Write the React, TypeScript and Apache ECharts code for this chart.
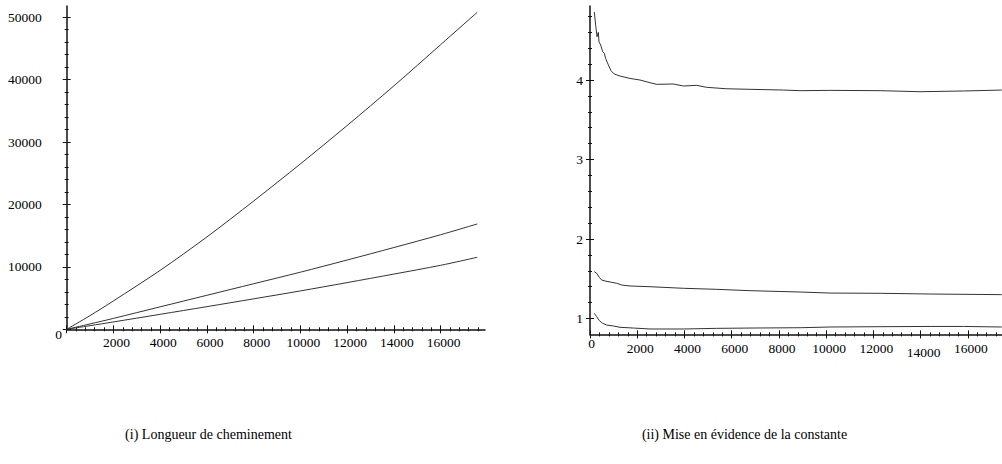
import React, { useEffect, useRef } from "react";
import * as echarts from "echarts";

// ---- Left panel: (i) Longueur de cheminement ----
const leftN = [0, 1000, 2000, 4000, 6000, 8000, 10000, 12000, 14000, 16000, 17570];
const leftTop = [0, 2200, 4550, 9450, 14800, 20550, 26500, 32650, 39000, 45600, 50800];
const leftMid = [0, 860, 1750, 3600, 5450, 7300, 9150, 11100, 13100, 15150, 16880];
const leftLow = [0, 580, 1180, 2400, 3630, 4880, 6150, 7480, 8850, 10250, 11540];

// ---- Right panel: (ii) Mise en évidence de la constante ----
const rightTopN = [183, 240, 297, 353, 381, 452, 537, 607, 664, 777, 890, 1031, 1271, 1695, 2119, 2542, 2825, 3531, 3955, 4520, 4944, 5791, 6780, 8192, 8898, 10170, 12290, 13980, 15820, 17440];
const rightTopV = [4.855, 4.69, 4.545, 4.6, 4.48, 4.44, 4.356, 4.336, 4.27, 4.19, 4.117, 4.075, 4.05, 4.02, 4.0, 3.966, 3.946, 3.95, 3.925, 3.933, 3.908, 3.89, 3.883, 3.874, 3.866, 3.87, 3.866, 3.853, 3.862, 3.874];
const rightMidN = [183, 282, 395, 494, 636, 918, 1130, 1342, 1695, 2542, 3955, 5367, 6780, 8898, 10170, 12290, 14407, 17440];
const rightMidV = [1.589, 1.569, 1.518, 1.484, 1.472, 1.455, 1.443, 1.421, 1.409, 1.4, 1.38, 1.367, 1.35, 1.333, 1.32, 1.317, 1.308, 1.3];
const rightLowN = [183, 282, 395, 537, 706, 989, 1271, 1836, 2542, 3955, 5367, 6780, 8898, 10170, 12290, 14407, 15820, 17440];
const rightLowV = [1.065, 1.023, 0.973, 0.94, 0.918, 0.906, 0.889, 0.88, 0.868, 0.868, 0.876, 0.88, 0.884, 0.893, 0.897, 0.9, 0.9, 0.893];

// ---- Tick labels ----
const leftXLabels = [2000, 4000, 6000, 8000, 10000, 12000, 14000, 16000];
const leftYLabels = [10000, 20000, 30000, 40000, 50000];
const rightXLabels = [2000, 4000, 6000, 8000, 10000, 12000, 16000];
const rightXLowLabels = [14000];
const rightXZeroLabel = [0];
const rightYLabels = [1, 2, 3, 4];
const captions = ["(i) Longueur de cheminement", "(ii) Mise en évidence de la constante"];

const range = (a: number, b: number, s: number) => {
  const out: number[] = [];
  for (let i = 0; a + i * s <= b + 1e-9; i++) out.push(Math.round((a + i * s) * 1000) / 1000);
  return out;
};
const minorsOf = (all: number[], majors: number[]) =>
  all.filter((v) => !majors.some((m) => Math.abs(m - v) < 1e-6));

const leftXMajor = range(0, 16000, 2000);
const leftXMinor = minorsOf(range(0, 17600, 400), leftXMajor);
const leftYMajor = range(0, 50000, 10000);
const leftYMinor = minorsOf(range(0, 50000, 2000), leftYMajor);
const rightXMajor = range(0, 16000, 2000);
const rightXMinor = minorsOf(range(0, 17200, 400), rightXMajor);
const rightYMajor = [1, 2, 3, 4];
const rightYMinor = minorsOf(range(1, 4.8, 0.2), rightYMajor);

const FONT = '"Liberation Serif", "DejaVu Serif", serif';
const INK = "#111";

export default function App() {
  const ref = useRef<HTMLDivElement>(null);
  useEffect(() => {
    if (!ref.current) return;
    const chart = echarts.init(ref.current, undefined, { renderer: "svg" });

    const axisLine = { show: true, onZero: false, lineStyle: { color: INK, width: 1.5 } };
    const mainAxis = (grid: number, pos: string, min: number, max: number, labels: any) => ({
      type: "value",
      gridIndex: grid,
      position: pos,
      min,
      max,
      axisLine,
      axisTick: { show: false },
      splitLine: { show: false },
      axisLabel: labels,
    });
    const labelAxis = (grid: number, pos: string, min: number, max: number, labels: any) => ({
      type: "value",
      gridIndex: grid,
      position: pos,
      min,
      max,
      axisLine: { show: false, onZero: false },
      axisTick: { show: false },
      splitLine: { show: false },
      axisLabel: labels,
    });
    const tickAxis = (grid: number, pos: string, min: number, max: number, values: number[], half: number) => ({
      type: "value",
      gridIndex: grid,
      position: pos,
      min,
      max,
      offset: -half,
      axisLine: { show: false, onZero: false },
      axisTick: { show: true, customValues: values, length: half * 2, lineStyle: { color: INK, width: 1 } },
      axisLabel: { show: false },
      splitLine: { show: false },
    });

    const LX = [0, 17900];
    const LY = [0, 51800];
    const RX = [0, 17450];
    const RY = [0.8, 4.93];

    const baseLabel = { color: "#000", fontFamily: FONT, fontSize: 13.5 };
    const plain = (v: number) => String(v);

    const option: any = {
      animation: false,
      backgroundColor: "#fff",
      textStyle: { fontFamily: FONT },
      grid: [
        { left: 66.7, top: 6, width: 418.3, height: 323.3 },
        { left: 590, top: 6.1, width: 412, height: 328.3 },
      ],
      xAxis: [
        mainAxis(0, "bottom", LX[0], LX[1], {
          ...baseLabel,
          customValues: leftXLabels,
          formatter: plain,
          margin: 6,
          padding: [0, 0, 0, 6],
        }),
        tickAxis(0, "bottom", LX[0], LX[1], leftXMajor, 4),
        tickAxis(0, "bottom", LX[0], LX[1], leftXMinor, 2),
        mainAxis(1, "bottom", RX[0], RX[1], {
          ...baseLabel,
          customValues: rightXLabels,
          formatter: plain,
          margin: 7,
          padding: [0, 0, 0, 6],
        }),
        tickAxis(1, "bottom", RX[0], RX[1], rightXMajor, 4),
        tickAxis(1, "bottom", RX[0], RX[1], rightXMinor, 2),
        labelAxis(1, "bottom", RX[0], RX[1], {
          ...baseLabel,
          customValues: rightXLowLabels,
          formatter: plain,
          margin: 11,
          padding: [0, 0, 0, 6],
        }),
        labelAxis(1, "bottom", RX[0], RX[1], {
          ...baseLabel,
          customValues: rightXZeroLabel,
          formatter: plain,
          margin: 2,
          padding: [0, 0, 0, 3],
        }),
      ],
      yAxis: [
        mainAxis(0, "left", LY[0], LY[1], {
          ...baseLabel,
          customValues: leftYLabels,
          formatter: plain,
          margin: 25,
          padding: [4, 0, 0, 0],
        }),
        tickAxis(0, "left", LY[0], LY[1], leftYMajor, 4),
        tickAxis(0, "left", LY[0], LY[1], leftYMinor, 2),
        mainAxis(1, "left", RY[0], RY[1], {
          ...baseLabel,
          customValues: rightYLabels,
          formatter: plain,
          margin: 7,
          padding: [4, 0, 0, 0],
        }),
        tickAxis(1, "left", RY[0], RY[1], rightYMajor, 4),
        tickAxis(1, "left", RY[0], RY[1], rightYMinor, 2),
      ],
      series: [
        ...[leftTop, leftMid, leftLow].map((vals) => ({
          type: "line",
          xAxisIndex: 0,
          yAxisIndex: 0,
          showSymbol: false,
          silent: true,
          smooth: 0.3,
          lineStyle: { color: "#333", width: 1 },
          data: leftN.map((n, i) => [n, vals[i]]),
        })),
        ...[
          [rightTopN, rightTopV],
          [rightMidN, rightMidV],
          [rightLowN, rightLowV],
        ].map(([ns, vals]) => ({
          type: "line",
          xAxisIndex: 3,
          yAxisIndex: 3,
          showSymbol: false,
          silent: true,
          lineStyle: { color: "#333", width: 1 },
          data: ns.map((n, i) => [n, vals[i]]),
        })),
      ],
      graphic: [
        {
          type: "text",
          x: 58.5,
          y: 334,
          style: { text: "0", font: `13.5px ${FONT}`, fill: "#000", align: "center", verticalAlign: "middle" },
        },
        {
          type: "text",
          x: 208.5,
          y: 434,
          style: { text: captions[0], font: `14px ${FONT}`, fill: "#000", align: "center", verticalAlign: "middle" },
        },
        {
          type: "text",
          x: 744.5,
          y: 434,
          style: { text: captions[1], font: `14px ${FONT}`, fill: "#000", align: "center", verticalAlign: "middle" },
        },
      ],
    };

    chart.setOption(option);
    return () => chart.dispose();
  }, []);

  return (
    <div
      ref={ref}
      style={{ position: "absolute", left: 0, top: 0, width: 1002, height: 464, background: "#fff" }}
    />
  );
}
